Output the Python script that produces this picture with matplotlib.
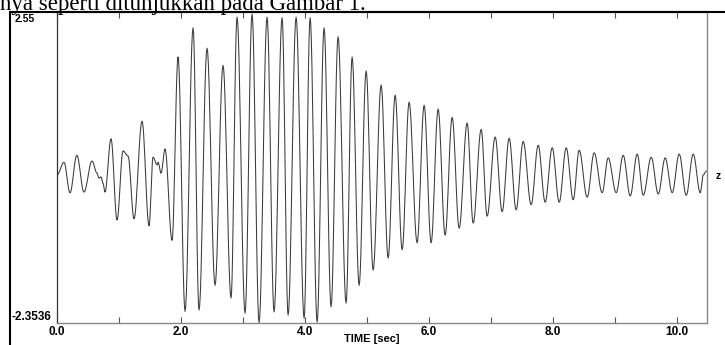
import numpy as np
import matplotlib
matplotlib.use("Agg")
import matplotlib.pyplot as plt
from matplotlib.lines import Line2D

# Extrema of the trace (time in seconds, amplitude)
peak_times = [0.0, 0.113, 0.21, 0.32, 0.435, 0.565, 0.645, 0.677, 0.71, 0.742,
              0.774, 0.871, 0.968, 1.065, 1.145, 1.242, 1.371, 1.484, 1.548, 1.613,
              1.629, 1.677, 1.742, 1.855, 1.952, 2.065, 2.194, 2.29, 2.419, 2.548,
              2.677, 2.806, 2.903, 3.032, 3.145, 3.258, 3.387, 3.5, 3.629, 3.726,
              3.855, 3.984, 4.081, 4.194, 4.306, 4.419, 4.532, 4.661, 4.758, 4.871,
              4.984, 5.097, 5.226, 5.339, 5.452, 5.565, 5.677, 5.806, 5.919, 6.032,
              6.145, 6.258, 6.371, 6.484, 6.613, 6.71, 6.839, 6.935, 7.065, 7.177,
              7.29, 7.403, 7.516, 7.645, 7.758, 7.871, 7.984, 8.097, 8.21, 8.323,
              8.419, 8.548, 8.661, 8.79, 8.887, 9.016, 9.129, 9.242, 9.355, 9.452,
              9.581, 9.694, 9.806, 9.919, 10.032, 10.145, 10.258, 10.371, 10.419, 10.468]
peak_values = [-0.02, 0.18, -0.30, 0.29, -0.29, 0.20, 0.01, -0.07, -0.05, -0.15,
               -0.29, 0.55, -0.73, 0.36, 0.28, -0.71, 0.83, -0.82, 0.26, 0.14,
               0.18, 0.01, 0.39, -1.05, 1.84, -2.17, 2.30, -2.15, 1.98, -1.76,
               1.71, -1.96, 2.47, -2.20, 2.52, -2.35, 2.47, -2.18, 2.46, -2.23,
               2.47, -2.28, 2.46, -2.34, 2.30, -2.10, 2.16, -2.04, 1.84, -1.76,
               1.62, -1.52, 1.40, -1.33, 1.24, -1.20, 1.13, -1.09, 1.08, -1.09,
               1.02, -0.97, 0.89, -0.86, 0.80, -0.78, 0.70, -0.67, 0.58, -0.60,
               0.56, -0.57, 0.51, -0.49, 0.45, -0.45, 0.41, -0.45, 0.41, -0.41,
               0.37, -0.37, 0.33, -0.30, 0.25, -0.30, 0.29, -0.35, 0.31, -0.34,
               0.26, -0.32, 0.25, -0.30, 0.31, -0.34, 0.31, -0.30, -0.02, 0.04]

y_min, y_max = -2.3536, 2.55
x_ticks_major = [0, 2, 4, 6, 8, 10]
x_ticks_minor = [1, 3, 5, 7, 9]
x_tick_labels = ["0.0", "2.0", "4.0", "6.0", "8.0", "10.0"]

# smooth half-cosine segments between successive extrema
ts, vs = [], []
for i in range(len(peak_times) - 1):
    t0, t1 = peak_times[i], peak_times[i + 1]
    v0, v1 = peak_values[i], peak_values[i + 1]
    s = np.linspace(0, 1, 12, endpoint=False)
    ts.append(t0 + (t1 - t0) * s)
    vs.append(v0 + (v1 - v0) * (1 - np.cos(np.pi * s)) / 2)
ts.append([peak_times[-1]])
vs.append([peak_values[-1]])
t = np.concatenate(ts)
v = np.concatenate(vs)

W, H = 725, 345
fig = plt.figure(figsize=(W / 100, H / 100), dpi=100)
fig.patch.set_facecolor("white")

ax = fig.add_axes([57 / W, (H - 323) / H, (707 - 57) / W, (323 - 12) / H])
ax.plot(t, v, color="#3a3a3a", lw=0.75)
ax.set_xlim(0, 10.48)
ax.set_ylim(y_min, y_max)
ax.set_yticks([])
ax.set_xticks(x_ticks_major)
ax.set_xticks(x_ticks_minor, minor=True)
ax.set_xticklabels(x_tick_labels, fontfamily="Liberation Sans", fontweight="bold", fontsize=8.5)
ax.tick_params(axis="x", which="both", direction="in", top=True, bottom=True,
               length=4, width=0.8, color="#555555", pad=2.5)
ax.spines["left"].set_color("#333333")
ax.spines["left"].set_linewidth(0.9)
for side in ["right", "bottom"]:
    ax.spines[side].set_color("#888888")
    ax.spines[side].set_linewidth(1.0)
ax.spines["top"].set_color("black")
ax.spines["top"].set_linewidth(1.5)

fs = dict(fontfamily="Liberation Sans", fontweight="bold")
fig.text(15 / W, 1 - 14.5 / H, "2.55", ha="left", va="top", fontsize=7.5, **fs)
fig.text(12 / W, 1 - 323 / H, "-2.3536", ha="left", va="bottom", fontsize=8.5, **fs)
fig.text(718 / W, 1 - 176 / H, "z", ha="center", va="center", fontsize=7.5, **fs)
fig.text(372 / W, 1 - 339 / H, "TIME [sec]", ha="center", va="center", fontsize=8, **fs)

# surrounding frame of the figure picture
fig.add_artist(Line2D([10 / W, 10 / W], [0, 1 - 12 / H], color="black", lw=1.5, transform=fig.transFigure))
fig.add_artist(Line2D([10 / W, 1], [1 - 12 / H, 1 - 12 / H], color="black", lw=1.5, transform=fig.transFigure))

# cropped document text above the figure
fig.text(0 / W, 1 - 10 / H, "nya seperti ditunjukkan pada Gambar 1.", ha="left", va="baseline",
         fontfamily="Liberation Serif", fontsize=16.5, color="black")

fig.savefig("out.png", dpi=100, facecolor="white")
